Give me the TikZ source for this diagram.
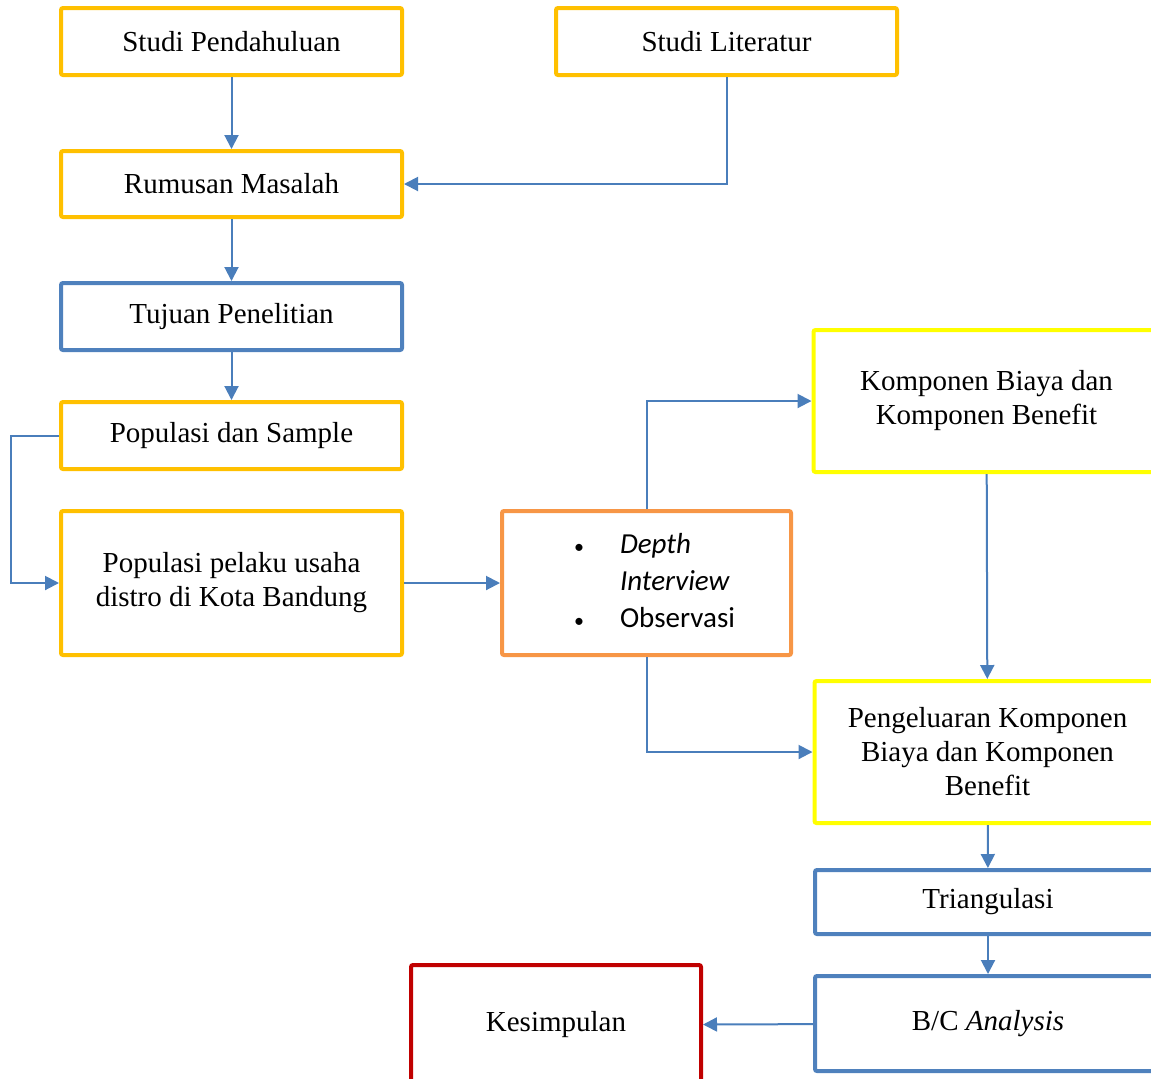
\documentclass[tikz,border=0pt]{standalone}
\usepackage{fontspec}
\setmainfont{Liberation Serif}
\newfontfamily\calibri{Carlito}
\usetikzlibrary{arrows.meta}
\definecolor{gold}{HTML}{FFC000}
\definecolor{steel}{HTML}{4F81BD}
\definecolor{tangerine}{HTML}{F79646}
\definecolor{lemon}{HTML}{FFFF00}
\definecolor{crimson}{HTML}{C00000}
\definecolor{wire}{HTML}{4A7EBB}
\newcommand{\smallbul}{{\fontsize{10}{10}\selectfont\textbullet}}

\begin{document}
\begin{tikzpicture}[x=0.5pt,y=-0.5pt,>={Triangle[length=7pt,width=7pt]}]
  \def\wl{170.5pt}
  \def\wr{173pt}

\tikzstyle{box}=[draw,line width=2pt,rounded corners=1pt,inner sep=0pt,align=center,font=\fontsize{14.5}{17}\selectfont]
\tikzstyle{flow}=[->,draw=wire,line width=1pt]
\useasboundingbox (0,0) rectangle (1151,1078);
% left column
\node[box][draw=gold,minimum width=\wl,minimum height=33.5pt] (SP) at (231.5,41.5) {Studi Pendahuluan};
\node[box][draw=gold,minimum width=\wl,minimum height=33.5pt] (SL) at (726.5,41.5) {Studi Literatur};
\node[box][draw=gold,minimum width=\wl,minimum height=33pt] (RM) at (231.5,184) {Rumusan Masalah};
\draw[flow] (SP) -- (RM);
\draw[flow] (SL.south) |- (RM.east);
\node[box][draw=steel,minimum width=\wl,minimum height=33.5pt] (TP) at (231.5,316.5) {Tujuan Penelitian};
\draw[flow] (RM) -- (TP);
\node[box][draw=gold,minimum width=\wl,minimum height=33.5pt] (PS) at (231.5,435.5) {Populasi dan Sample};
\draw[flow] (TP) -- (PS);
\node[box][draw=gold,minimum width=\wl,minimum height=72pt] (PP) at (231.5,583) {Populasi pelaku usaha\\distro di Kota Bandung};
\draw[flow] (PS.west) -- ++(-48,0) |- (PP.west);
% middle
\node[box][draw=tangerine,minimum width=144.5pt,minimum height=72pt,font=\calibri\fontsize{14.5}{18.5}\selectfont] (DI) at (646.5,583)
  {\raisebox{-2pt}{\begin{tabular}{@{\hspace{8pt}}p{23pt}@{}l@{}}
   \smallbul & \textit{Depth}\\
             & \textit{Interview}\\
   \smallbul & Observasi
   \end{tabular}}};
\draw[flow] (PP) -- (DI);
% right column
\node[box][draw=lemon,minimum width=\wr,minimum height=71pt] (KB) at (986.5,401) {Komponen Biaya dan\\Komponen Benefit};
\node[box][draw=lemon,minimum width=\wr,minimum height=71pt] (PK) at (987.5,752) {Pengeluaran Komponen\\Biaya dan Komponen\\Benefit};
\draw[flow] (DI.north) |- (KB.west);
\draw[flow] (DI.south) |- (PK.west);
\draw[flow] (KB) -- (PK);
\node[box][draw=steel,minimum width=\wr,minimum height=32pt] (TR) at (988,902) {Triangulasi};
\draw[flow] (PK) -- (TR);
\node[box][draw=steel,minimum width=\wr,minimum height=47.5pt] (BC) at (988,1023.5) {B/C \textit{Analysis}};
\draw[flow] (TR) -- (BC);
\node[box][draw=crimson,minimum width=145pt,minimum height=60pt] (KS) at (556,1025) {Kesimpulan};
\draw[flow] (BC) -- (KS);
\end{tikzpicture}
\end{document}
